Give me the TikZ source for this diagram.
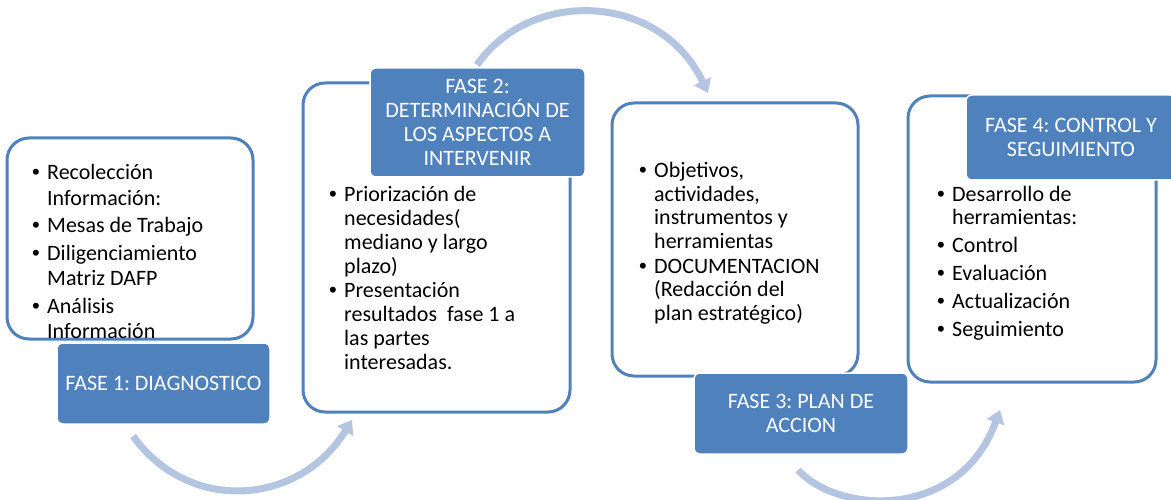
\documentclass[tikz,border=0pt]{standalone}
\usepackage{fontspec}
\setmainfont{Carlito}
\newfontfamily\bulf{Liberation Sans}
\usetikzlibrary{arrows.meta}
\definecolor{acc}{HTML}{4F81BD}
\definecolor{arr}{HTML}{B4C5E2}
\newcommand{\bl}{\makebox[15pt][l]{\bulf\textbullet}}
\newcommand{\ind}{\hspace*{15pt}}
\frenchspacing
\tikzset{
 wbox/.style={draw=acc, line width=3pt, fill=white, rounded corners=22pt, inner sep=0pt},
 bbox/.style={draw=white, line width=1.5pt, fill=acc, rounded corners=6pt, text=white, align=center, font=\fontsize{22}{24}\selectfont, inner sep=0pt},
 lst/.style={anchor=base west, inner sep=0pt, align=left},
 cyc/.style={draw=arr, line width=7pt, -{Triangle[width=18pt,length=13pt]}},
}
\begin{document}
\begin{tikzpicture}[x=1pt,y=-1pt]
\useasboundingbox (0,0) rectangle (1171,500);
% cycle arrows
\coordinate (a1s) at (133,436); \coordinate (a1e) at (352,420);
\coordinate (a2s) at (477,65);  \coordinate (a2e) at (708,93);
\coordinate (a3s) at (798,470); \coordinate (a3e) at (1000,410);
\draw[cyc] (a1s) .. controls (190,515) and (300,505) .. (a1e);
\draw[cyc] (a2s) .. controls (530,-12) and (660,-8) .. (a2e);
\draw[cyc] (a3s) .. controls (840,515) and (960,520) .. (a3e);
% white boxes
\node[wbox, minimum width=246pt, minimum height=201pt] (b1) at (130,238.5) {};
\node[wbox, minimum width=267pt, minimum height=329pt] (b2) at (436.5,247.5) {};
\node[wbox, minimum width=246pt, minimum height=273pt] (b3) at (735,239.5) {};
\node[wbox, minimum width=248pt, minimum height=286pt] (b4) at (1032,239) {};
% lists
\node[lst] (t1) at (32,180) {\parbox[t]{220pt}{\fontsize{22}{25}\selectfont\raggedright
\bl Recolección\\ \ind Información:\\[3pt]
\bl Mesas de Trabajo\\[3pt]
\bl Diligenciamiento\\ \ind Matriz DAFP\\[3pt]
\bl Análisis\\ \ind Información}};
\node[lst] (t2) at (329,202) {\parbox[t]{230pt}{\fontsize{22}{24}\selectfont\raggedright
\bl Priorización de\\ \ind necesidades(\\ \ind mediano y largo\\ \ind plazo)\\
\bl Presentación\\ \ind resultados\ \ fase 1 a\\ \ind las partes\\ \ind interesadas.}};
\node[lst] (t3) at (639,178) {\parbox[t]{220pt}{\fontsize{22}{23.5}\selectfont\raggedright
\bl Objetivos,\\ \ind actividades,\\ \ind instrumentos y\\ \ind herramientas\\[1.5pt]
\bl DOCUMENTACION\\ \ind (Redacción del\\ \ind plan estratégico)}};
\node[lst] (t4) at (937,202) {\parbox[t]{210pt}{\fontsize{22}{23}\selectfont\raggedright
\bl Desarrollo de\\ \ind herramientas:\\[5pt]
\bl Control\\[5pt]
\bl Evaluación\\[5pt]
\bl Actualización\\[5pt]
\bl Seguimiento}};
% blue phase boxes
\node[bbox, minimum width=213pt, minimum height=81pt] (f1) at (163.5,383.5) {FASE 1: DIAGNOSTICO};
\node[bbox, minimum width=215pt, minimum height=109pt] (f2) at (477.5,122.5) {FASE 2:\\ DETERMINACIÓN DE\\ LOS ASPECTOS A\\ INTERVENIR};
\node[bbox, minimum width=214pt, minimum height=81pt] (f3) at (801,413.5) {FASE 3: PLAN DE\\ ACCION};
\node[bbox, minimum width=210pt, minimum height=85pt] (f4) at (1071,137.5) {FASE 4: CONTROL Y\\ SEGUIMIENTO};
\end{tikzpicture}
\end{document}
